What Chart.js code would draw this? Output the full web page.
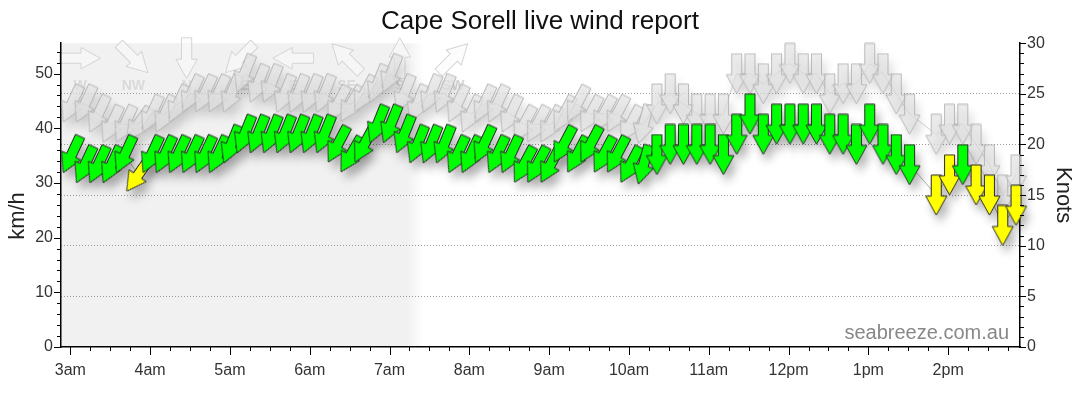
<!DOCTYPE html>
<html>
<head>
<meta charset="utf-8">
<title>Cape Sorell live wind report</title>
<script src="https://cdn.jsdelivr.net/npm/chart.js@4.4.1/dist/chart.umd.min.js"></script>
<style>
  html, body { margin: 0; padding: 0; background: #fff; }
</style>
</head>
<body>
<canvas id="wind-chart" width="1080" height="414"></canvas>
<script>
// Cape Sorell readings, 10 minute samples, speeds in knots
var chartTitle = 'Cape Sorell live wind report';
var hourTicks = ['03:00', '04:00', '05:00', '06:00', '07:00', '08:00', '09:00', '10:00', '11:00', '12:00', '13:00', '14:00'];
var hourLabels = ['3am', '4am', '5am', '6am', '7am', '8am', '9am', '10am', '11am', '12pm', '1pm', '2pm'];
var kmhTicks = [0, 10, 20, 30, 40, 50];

var times = [
  '03:01', '03:11', '03:21', '03:31', '03:41', '03:51',
  '04:01', '04:11', '04:21', '04:31', '04:41', '04:51',
  '05:01', '05:11', '05:21', '05:31', '05:41', '05:51',
  '06:01', '06:11', '06:21', '06:31', '06:41', '06:51',
  '07:01', '07:11', '07:21', '07:31', '07:41', '07:51',
  '08:01', '08:11', '08:21', '08:31', '08:41', '08:51',
  '09:01', '09:11', '09:21', '09:31', '09:41', '09:51',
  '10:01', '10:11', '10:21', '10:31', '10:41', '10:51',
  '11:01', '11:11', '11:21', '11:31', '11:41', '11:51',
  '12:01', '12:11', '12:21', '12:31', '12:41', '12:51',
  '13:01', '13:11', '13:21', '13:31', '13:41', '13:51',
  '14:01', '14:11', '14:21', '14:31', '14:41', '14:51'
];

var avgKnots = [
  19, 18, 18, 18, 19, 17,
  19, 19, 19, 19, 19, 19,
  20, 21, 21, 21, 21, 21,
  21, 21, 20, 19, 20, 22,
  22, 21, 20, 20, 20, 19,
  19, 20, 19, 19, 18, 18,
  18, 20, 19, 20, 19, 19,
  18, 18, 19, 20, 20, 20,
  20, 19, 21, 23, 21, 22,
  22, 22, 22, 21, 21, 20,
  22, 20, 19, 18, null, 15,
  17, 18, 16, 15, 12, 14
];

var gustKnots = [
  24, 24, 23, 22, 22, 22,
  23, 23, 24, 25, 25, 25,
  25, 27, 26, 26, 25, 25,
  25, 25, 24, 24, 25, 26,
  27, 25, 24, 25, 25, 24,
  23, 24, 24, 23, 22, 22,
  22, 23, 24, 23, 23, 23,
  22, 22, 24, 25, 24, 23,
  23, 23, 27, 27, 26, 27,
  28, 27, 27, 25, 26, 26,
  28, 27, 25, 23, null, 21,
  22, 22, 20, 18, 15, 17
];

// direction the wind comes from, degrees
var windDir = [
  25, 25, 25, 25, 25, 35,
  25, 25, 25, 25, 25, 25,
  22, 22, 22, 22, 22, 22,
  22, 22, 28, 30, 28, 22,
  22, 22, 22, 22, 22, 25,
  25, 25, 25, 25, 28, 28,
  28, 28, 28, 28, 28, 28,
  28, 15, 0, 0, 0, 0,
  0, 0, 0, 0, 0, 0,
  0, 0, 0, 0, 0, 0,
  0, 0, 0, 0, null, 0,
  0, 0, 0, 0, 0, 0
];

var compassLabels = ['W', 'NW', 'N', 'NE', 'E', 'SE', 'S', 'SW'];
var compassDirs = [270, 315, 0, 45, 90, 135, 180, 225];

var axisStart = '02:53';
var axisEnd = '14:54';
var nightEnd = '07:13';
var nightFade = '07:26';
var KMH_PER_KNOT = 1.852;
var YELLOW_BELOW = 18;

function toMinutes(t) {
  var p = t.split(':');
  return Number(p[0]) * 60 + Number(p[1]);
}

var avgPoints = times.map(function (t, i) { return {x: toMinutes(t), y: avgKnots[i]}; });
var gustPoints = times.map(function (t, i) { return {x: toMinutes(t), y: gustKnots[i]}; });

// block arrow pointing down, centred on cx, cy
function arrowPath(g, cx, cy, s) {
  var L = 40 * s, sw = 10 * s, hw = 21 * s, hl = 19 * s;
  var top = cy - L / 2, neck = cy + L / 2 - hl, tip = cy + L / 2;
  g.beginPath();
  g.moveTo(cx - sw / 2, top);
  g.lineTo(cx + sw / 2, top);
  g.lineTo(cx + sw / 2, neck);
  g.lineTo(cx + hw / 2, neck);
  g.lineTo(cx, tip);
  g.lineTo(cx - hw / 2, neck);
  g.lineTo(cx - sw / 2, neck);
  g.closePath();
}

function arrowCanvas(fill, stroke) {
  var c = document.createElement('canvas');
  c.width = 25; c.height = 42;
  var g = c.getContext('2d');
  arrowPath(g, 12.5, 21, 1);
  g.fillStyle = fill;
  g.fill();
  g.lineWidth = 1;
  g.strokeStyle = stroke;
  g.stroke();
  return c;
}

function shadowCanvas(alpha) {
  var c = document.createElement('canvas');
  c.width = 50; c.height = 66;
  var g = c.getContext('2d');
  g.filter = 'blur(5px)';
  arrowPath(g, 25, 33, 1);
  g.fillStyle = 'rgba(0,0,0,' + alpha + ')';
  g.fill();
  return c;
}

var greenArrow = arrowCanvas('#00ff00', '#2b2b2b');
var yellowArrow = arrowCanvas('#ffff00', '#2b2b2b');
var greyArrow = arrowCanvas('rgba(226,226,226,0.7)', 'rgba(175,175,175,0.85)');
var avgShadow = shadowCanvas(0.3);
var gustShadow = shadowCanvas(0.14);

function rotationOf(c) { return windDir[c.dataIndex] || 0; }

var nightPlugin = {
  id: 'night',
  beforeDraw: function (chart) {
    var a = chart.chartArea, sx = chart.scales.x, ctx = chart.ctx;
    var x1 = sx.getPixelForValue(toMinutes(nightEnd));
    var x2 = sx.getPixelForValue(toMinutes(nightFade));
    ctx.save();
    ctx.fillStyle = '#f1f1f1';
    ctx.fillRect(a.left, a.top, x1 - a.left, a.bottom - a.top);
    var grad = ctx.createLinearGradient(x1, 0, x2, 0);
    grad.addColorStop(0, 'rgba(241,241,241,1)');
    grad.addColorStop(1, 'rgba(241,241,241,0)');
    ctx.fillStyle = grad;
    ctx.fillRect(x1, a.top, x2 - x1, a.bottom - a.top);

    // compass key along the top
    compassLabels.forEach(function (lab, i) {
      var cx = a.left + 19 + i * 53.3, cy = a.top + 15;
      ctx.save();
      ctx.translate(cx, cy);
      ctx.rotate(compassDirs[i] * Math.PI / 180);
      arrowPath(ctx, 0, 0, 1.02);
      ctx.fillStyle = 'rgba(250,250,250,0.6)';
      ctx.fill();
      ctx.lineWidth = 1;
      ctx.strokeStyle = '#d4d4d4';
      ctx.stroke();
      ctx.restore();
      ctx.font = 'bold 14px "Liberation Sans", Arial, sans-serif';
      ctx.fillStyle = '#dadada';
      ctx.textAlign = 'center';
      ctx.textBaseline = 'middle';
      ctx.fillText(lab, cx, a.top + 43);
    });
    ctx.restore();
  }
};

var shadowPlugin = {
  id: 'arrowShadow',
  beforeDatasetDraw: function (chart, args) {
    if (chart.data.datasets[args.index].isShadow) {
      chart.ctx.save();
      chart.ctx.translate(4, 8);
    }
  },
  afterDatasetDraw: function (chart, args) {
    if (chart.data.datasets[args.index].isShadow) chart.ctx.restore();
  }
};

var extrasPlugin = {
  id: 'extras',
  afterDraw: function (chart) {
    var ctx = chart.ctx, a = chart.chartArea;
    var sx = chart.scales.x, sl = chart.scales.y, sr = chart.scales.yk;
    var v, p, len;
    ctx.save();
    ctx.strokeStyle = '#000';
    ctx.lineWidth = 1;
    ctx.beginPath();
    for (v = Math.ceil(sx.min / 15) * 15; v <= sx.max; v += 15) {
      p = Math.round(sx.getPixelForValue(v)) + 0.5;
      len = (v % 60 === 0) ? 8 : 4;
      ctx.moveTo(p, a.bottom);
      ctx.lineTo(p, a.bottom + len);
    }
    for (v = 0; v <= sl.max; v += 2) {
      p = Math.round(sl.getPixelForValue(v)) + 0.5;
      len = (v % 10 === 0) ? 7 : 4;
      ctx.moveTo(a.left - len, p);
      ctx.lineTo(a.left, p);
    }
    for (v = 0; v <= sr.max; v += 1) {
      p = Math.round(sr.getPixelForValue(v)) + 0.5;
      len = (v % 5 === 0) ? 6 : 4;
      ctx.moveTo(a.right, p);
      ctx.lineTo(a.right + len, p);
    }
    ctx.stroke();

    ctx.fillStyle = '#222';
    ctx.font = '22px "Liberation Sans", Arial, sans-serif';
    ctx.textAlign = 'center';
    ctx.textBaseline = 'middle';
    ctx.translate(18, 216);
    ctx.rotate(-Math.PI / 2);
    ctx.fillText('km/h', 0, 0);
    ctx.restore();

    ctx.save();
    ctx.fillStyle = '#888';
    ctx.font = '20px "Liberation Sans", Arial, sans-serif';
    ctx.textAlign = 'right';
    ctx.textBaseline = 'alphabetic';
    ctx.fillText('seabreeze.com.au', a.right - 11, a.bottom - 8);
    ctx.restore();
  }
};

Chart.defaults.font.family = '"Liberation Sans", Arial, sans-serif';
Chart.defaults.font.size = 16;
Chart.defaults.color = '#333';

new Chart(document.getElementById('wind-chart'), {
  type: 'line',
  data: {
    datasets: [{
      label: 'Wind',
      data: avgPoints,
      yAxisID: 'yk',
      showLine: false,
      clip: false,
      order: 0,
      pointStyle: function (c) { return avgKnots[c.dataIndex] < YELLOW_BELOW ? yellowArrow : greenArrow; },
      pointRotation: rotationOf
    }, {
      label: 'Wind shadow',
      isShadow: true,
      data: avgPoints,
      yAxisID: 'yk',
      showLine: false,
      clip: false,
      order: 1,
      pointStyle: avgShadow,
      pointRotation: rotationOf
    }, {
      label: 'Gust',
      data: gustPoints,
      yAxisID: 'yk',
      showLine: false,
      clip: false,
      order: 2,
      pointStyle: greyArrow,
      pointRotation: rotationOf
    }, {
      label: 'Gust shadow',
      isShadow: true,
      data: gustPoints,
      yAxisID: 'yk',
      showLine: false,
      clip: false,
      order: 3,
      pointStyle: gustShadow,
      pointRotation: rotationOf
    }, {
      label: 'Wind line',
      data: avgPoints,
      yAxisID: 'yk',
      borderColor: 'rgba(120,120,120,0.6)',
      borderWidth: 1,
      pointRadius: 0,
      spanGaps: true,
      order: 4
    }, {
      label: 'Gust line',
      data: gustPoints,
      yAxisID: 'yk',
      borderColor: 'rgba(170,170,170,0.5)',
      borderWidth: 1,
      pointRadius: 0,
      spanGaps: true,
      order: 5
    }]
  },
  options: {
    responsive: false,
    animation: false,
    layout: { padding: 0 },
    plugins: {
      legend: { display: false },
      tooltip: { enabled: false },
      title: {
        display: true,
        text: chartTitle,
        color: '#111',
        font: { size: 26, weight: 'normal' },
        padding: { top: 6, bottom: 6 }
      }
    },
    scales: {
      x: {
        type: 'linear',
        min: toMinutes(axisStart),
        max: toMinutes(axisEnd),
        afterBuildTicks: function (s) {
          s.ticks = hourTicks.map(function (t) { return {value: toMinutes(t)}; });
        },
        ticks: {
          callback: function (v, i) { return hourLabels[i]; },
          padding: 14,
          maxRotation: 0,
          autoSkip: false
        },
        grid: { display: false, drawTicks: false },
        border: { display: true, color: '#000', width: 1.5 },
        afterFit: function (s) { s.height = 67; }
      },
      y: {
        position: 'left',
        min: 0,
        max: 30 * KMH_PER_KNOT,
        afterBuildTicks: function (s) {
          s.ticks = kmhTicks.map(function (v) { return {value: v}; });
        },
        ticks: { padding: 8 },
        grid: { display: false, drawTicks: false },
        border: { display: true, color: '#000', width: 1.5 },
        afterFit: function (s) { s.width = 61; }
      },
      yk: {
        position: 'right',
        min: 0,
        max: 30,
        ticks: { stepSize: 5, padding: 7 },
        grid: {
          drawTicks: false,
          lineWidth: 1,
          color: function (c) {
            return (c.tick && c.tick.value > 0 && c.tick.value < 30) ? '#9a9a9a' : 'rgba(0,0,0,0)';
          }
        },
        border: { display: true, color: '#000', width: 1.5, dash: [1, 2] },
        title: {
          display: true,
          text: 'Knots',
          color: '#222',
          font: { size: 22 },
          padding: { top: 4, bottom: 0 }
        },
        afterFit: function (s) { s.width = 60; }
      }
    }
  },
  plugins: [nightPlugin, shadowPlugin, extrasPlugin]
});
</script>
</body>
</html>
